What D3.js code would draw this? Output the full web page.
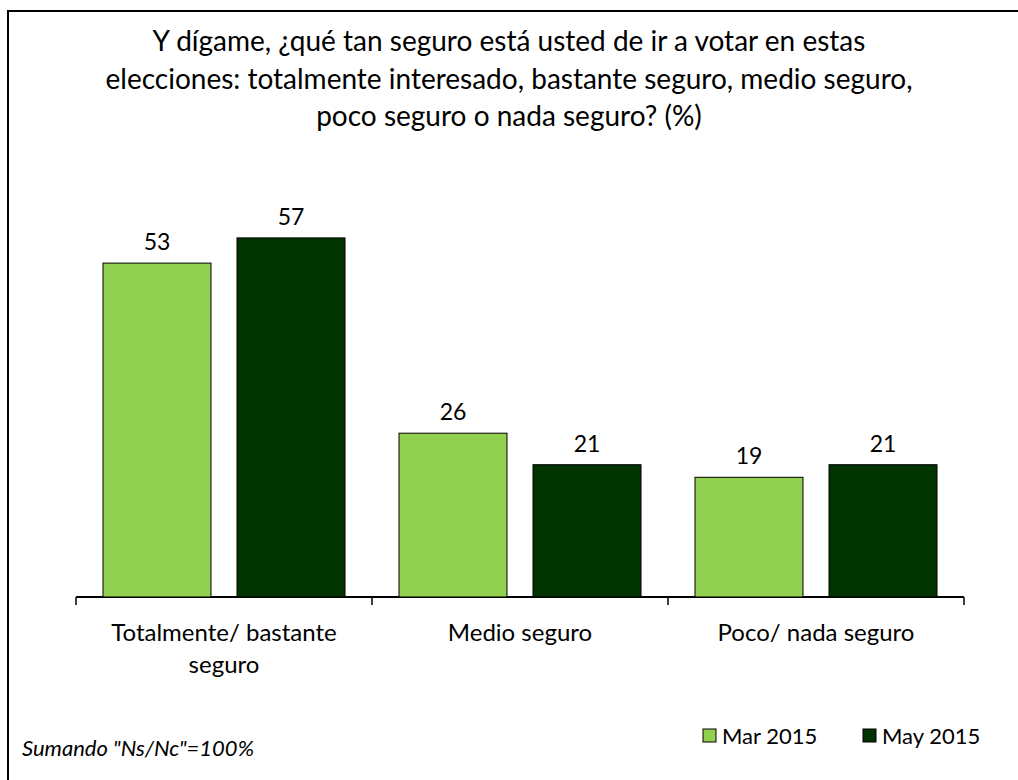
<!DOCTYPE html>
<html>
<head>
<meta charset="utf-8">
<script src="https://cdn.jsdelivr.net/npm/d3@7"></script>
<style>
  body { margin: 0; background: #fff; }
  text { font-family: "Lato", "Open Sans", sans-serif; fill: #000; }
</style>
</head>
<body>
<svg id="chart"></svg>
<script>
// data
const categories = [["Totalmente/ bastante", "seguro"], ["Medio seguro"], ["Poco/ nada seguro"]];
const seriesNames = ["Mar 2015", "May 2015"];
const mar2015 = [53, 26, 19];
const may2015 = [57, 21, 21];
const colors = ["#92D050", "#003300"];
const titleLines = [
  "Y dígame, ¿qué tan seguro está usted de ir a votar en estas",
  "elecciones: totalmente interesado, bastante seguro, medio seguro,",
  "poco seguro o nada seguro? (%)"
];

const w = 1018, h = 780;
const svg = d3.select('#chart').attr('width', w).attr('height', h);

// frame
svg.append('path')
  .attr('d', `M8,${h + 5} V11 H${w + 5}`)
  .attr('fill', 'none').attr('stroke', '#000').attr('stroke-width', 2);

// title
svg.append('g').selectAll('text')
  .data(titleLines)
  .join('text')
    .attr('x', 509)
    .attr('y', (d, i) => 51 + i * 37.5)
    .attr('text-anchor', 'middle')
    .style('font-size', '28px')
    .text(d => d);

// scales
const idx = categories.map((d, i) => i);
const x0 = d3.scaleBand().domain(idx).range([76, 964]);
const x1 = d3.scaleBand().domain([0, 1]).range([27, 269]).paddingInner(0.194);
const y = d3.scaleLinear().domain([0, 60]).range([597, 219]);

// axis
const gx = svg.append('g').attr('transform', 'translate(0,597)')
  .call(d3.axisBottom(x0).tickSize(0).tickFormat(''));
gx.select('.domain').attr('stroke', '#000').attr('stroke-width', 2).attr('d', 'M76,0H964');
const tickX = idx.map(i => x0(i)).concat([x0.range()[1]]);
svg.append('g').selectAll('line')
  .data(tickX)
  .join('line')
    .attr('x1', d => d).attr('x2', d => d)
    .attr('y1', 597).attr('y2', 605)
    .attr('stroke', '#000').attr('stroke-width', 1.5);

// bars
const series = [mar2015, may2015];
series.forEach((vals, s) => {
  const g = svg.append('g');
  g.selectAll('rect')
    .data(vals)
    .join('rect')
      .attr('x', (v, i) => x0(i) + x1(s))
      .attr('y', v => y(v))
      .attr('width', x1.bandwidth())
      .attr('height', v => y(0) - y(v))
      .attr('fill', colors[s])
      .attr('stroke', '#000').attr('stroke-width', 1);
  g.selectAll('text')
    .data(vals)
    .join('text')
      .attr('x', (v, i) => x0(i) + x1(s) + x1.bandwidth() / 2)
      .attr('y', v => y(v) - 13)
      .attr('text-anchor', 'middle')
      .style('font-size', '23px')
      .text(v => v);
});

// category labels
categories.forEach((lines, i) => {
  const cx = x0(i) + x0.bandwidth() / 2;
  svg.append('text')
    .attr('x', cx)
    .attr('y', 641)
    .attr('text-anchor', 'middle')
    .style('font-size', '24px')
    .selectAll('tspan')
    .data(lines)
    .join('tspan')
      .attr('x', cx)
      .attr('dy', (d, j) => j === 0 ? 0 : 32)
      .text(d => d);
});

// legend
const legendPos = [703, 863];
seriesNames.forEach((name, s) => {
  svg.append('rect')
    .attr('x', legendPos[s]).attr('y', 729)
    .attr('width', 13).attr('height', 13)
    .attr('fill', colors[s]).attr('stroke', '#000').attr('stroke-width', 1);
  svg.append('text')
    .attr('x', legendPos[s] + 19).attr('y', 744)
    .style('font-size', '22px')
    .text(name);
});

// footnote
svg.append('text')
  .attr('x', 22).attr('y', 756)
  .style('font-size', '22px').style('font-style', 'italic')
  .text('Sumando "Ns/Nc"=100%');
</script>
</body>
</html>
